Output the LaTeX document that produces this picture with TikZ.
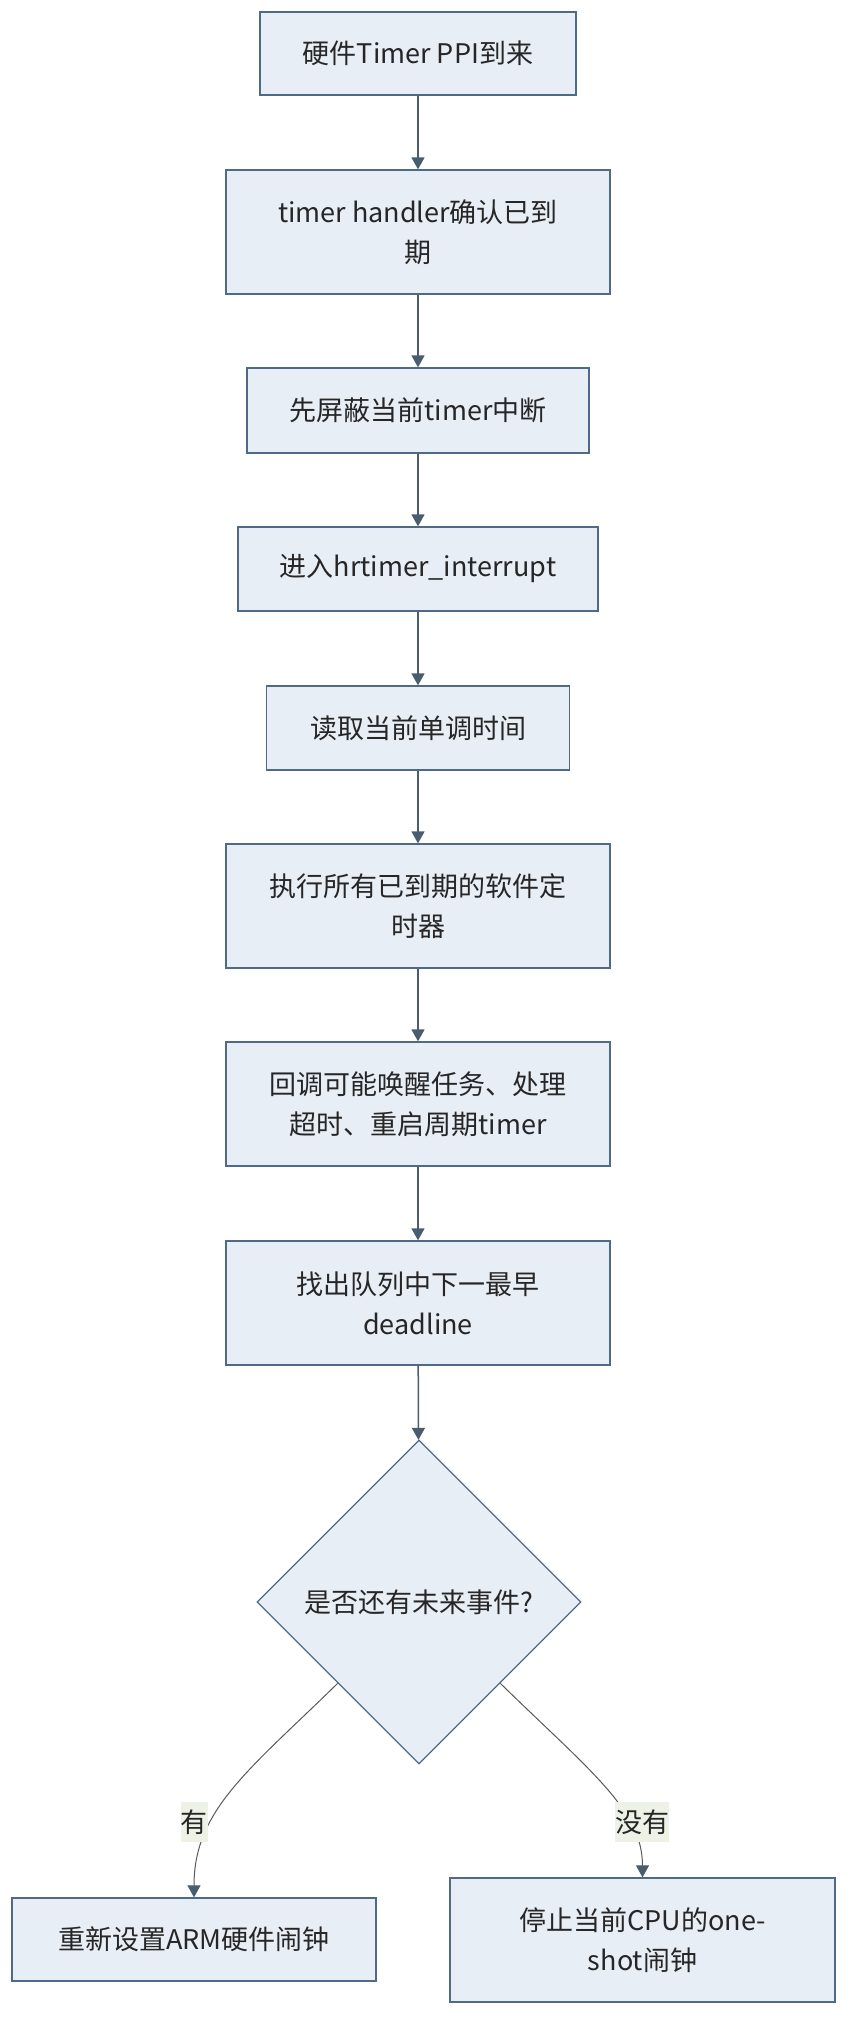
\documentclass[tikz,border=0pt]{standalone}
\usepackage{fontspec}
\setmainfont{Noto Sans CJK SC}
\usepackage{tikz}
\usetikzlibrary{shapes.geometric}
\usetikzlibrary{arrows.meta}
\usepackage{xcolor}
\definecolor{boxfill}{HTML}{E8EEF6}
\definecolor{boxline}{HTML}{4F6A85}
\definecolor{arrowcol}{HTML}{4A5D6E}
\definecolor{labelbg}{HTML}{EEF1E6}

\begin{document}
\begin{tikzpicture}[x=1pt,y=-1pt,
  stepbox/.style={draw=boxline,fill=boxfill,line width=1.3pt,align=center,
    font=\fontsize{27}{40}\selectfont,text=black!85,inner sep=0pt},
  choice/.style={stepbox,diamond,aspect=1,minimum width=324pt,minimum height=324pt},
  arr/.style={draw=arrowcol,line width=1.5pt,-{Triangle[length=12pt,width=13pt]}},
  branch/.style={draw=black!65,line width=1pt,-{Triangle[length=12pt,width=13pt,fill=arrowcol,color=arrowcol]}},
  lbl/.style={fill=labelbg,inner xsep=0pt,inner ysep=0pt,minimum height=40pt,
    font=\fontsize{27}{40}\selectfont,text=black!85}]
\useasboundingbox (0,0) rectangle (860,2040);

 \node[stepbox,minimum width=316pt,minimum height=83pt] (b1) at (418,53.5) {硬件Timer PPI到来};
 \node[stepbox,minimum width=384pt,minimum height=124pt] (b2) at (418,232) {timer handler确认已到\\期};
 \node[stepbox,minimum width=342pt,minimum height=85pt] (b3) at (418,410.5) {先屏蔽当前timer中断};
 \node[stepbox,minimum width=360pt,minimum height=84pt] (b4) at (418,569) {进入hrtimer\_interrupt};
 \node[stepbox,minimum width=303pt,minimum height=84pt] (b5) at (418,728) {读取当前单调时间};
 \node[stepbox,minimum width=384pt,minimum height=124pt] (b6) at (418,906) {执行所有已到期的软件定\\时器};
 \node[stepbox,minimum width=384pt,minimum height=124pt] (b7) at (418,1104) {回调可能唤醒任务、处理\\超时、重启周期timer};
 \node[stepbox,minimum width=384pt,minimum height=124pt] (b8) at (418,1303) {找出队列中下一最早\\deadline};
 \node[choice] (dia) at (419,1602) {是否还有未来事件?};
 \node[stepbox,minimum width=364pt,minimum height=83pt] (b9) at (194,1939.5) {重新设置ARM硬件闹钟};
 \node[stepbox,minimum width=385pt,minimum height=124pt] (b10) at (642.5,1940) {停止当前CPU的one-\\shot闹钟};

 \draw[arr] (b1) -- (b2);
 \draw[arr] (b2) -- (b3);
 \draw[arr] (b3) -- (b4);
 \draw[arr] (b4) -- (b5);
 \draw[arr] (b5) -- (b6);
 \draw[arr] (b6) -- (b7);
 \draw[arr] (b7) -- (b8);
 \draw[arr] (b8) -- (dia);

% branches
 \draw[branch] (dia.south west) .. controls (248,1771) and (194,1810) .. (b9.north);
 \draw[branch] (dia.south east) .. controls (590,1771) and (642.5,1810) .. (b10.north);
 \node[lbl] (yes) at (194,1822) {有};
 \node[lbl] (no) at (642,1822) {没有};

\end{tikzpicture}
\end{document}
